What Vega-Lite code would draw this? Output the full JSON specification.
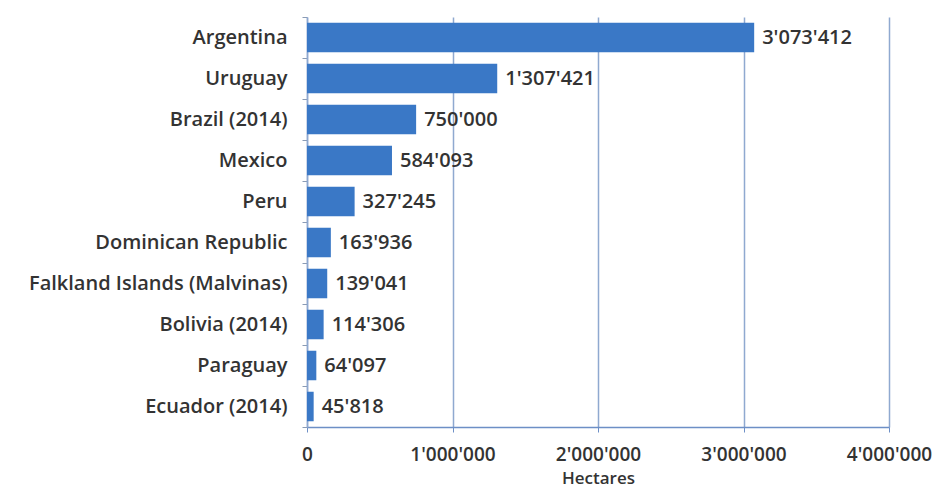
{
  "$schema": "https://vega.github.io/schema/vega-lite/v6.json",
  "width": 582,
  "height": 410,
  "autosize": {"type": "none"},
  "padding": {"left": 307, "top": 17, "right": 54, "bottom": 63},
  "background": "white",
  "config": {
    "locale": {"number": {"decimal": ".", "thousands": "'", "grouping": [3], "currency": ["", ""]}},
    "view": {"stroke": null},
    "font": "Open Sans"
  },
  "data": {
    "values": [
      {"country": "Argentina", "hectares": 3073412},
      {"country": "Uruguay", "hectares": 1307421},
      {"country": "Brazil (2014)", "hectares": 750000},
      {"country": "Mexico", "hectares": 584093},
      {"country": "Peru", "hectares": 327245},
      {"country": "Dominican Republic", "hectares": 163936},
      {"country": "Falkland Islands (Malvinas)", "hectares": 139041},
      {"country": "Bolivia (2014)", "hectares": 114306},
      {"country": "Paraguay", "hectares": 64097},
      {"country": "Ecuador (2014)", "hectares": 45818}
    ]
  },
  "encoding": {
    "y": {
      "field": "country",
      "type": "nominal",
      "sort": null,
      "scale": {"paddingInner": 0, "paddingOuter": 0},
      "axis": {
        "title": null,
        "tickBand": "extent",
        "domainColor": "#8fa9d0",
        "domainWidth": 1.5,
        "tickColor": "#8a9bb5",
        "tickSize": 5,
        "labelPadding": 15,
        "labelLimit": 0,
        "labelFontSize": 20,
        "labelFontWeight": 600,
        "labelColor": "#333333",
        "labelFont": "Open Sans"
      }
    },
    "x": {
      "field": "hectares",
      "type": "quantitative",
      "scale": {"domain": [0, 4000000]},
      "axis": {
        "title": "Hectares",
        "values": [0, 1000000, 2000000, 3000000, 4000000],
        "format": ",d",
        "grid": true,
        "gridColor": "#8fa9d0",
        "gridWidth": 1.5,
        "domainColor": "#6d8fc6",
        "domainWidth": 1.5,
        "tickColor": "#6d8fc6",
        "tickSize": 5,
        "labelPadding": 13,
        "labelFlush": false,
        "labelOverlap": false,
        "labelFontSize": 19,
        "labelFontWeight": 600,
        "labelColor": "#333333",
        "labelFont": "Open Sans",
        "titleFontSize": 17,
        "titleFontWeight": 600,
        "titleColor": "#333333",
        "titleFont": "Open Sans",
        "titlePadding": 6
      }
    }
  },
  "layer": [
    {
      "mark": {"type": "bar", "color": "#3a78c6", "height": {"band": 0.72}}
    },
    {
      "mark": {"type": "text", "align": "left", "baseline": "middle", "dx": 8, "fontSize": 20, "fontWeight": 600, "color": "#333333", "font": "Open Sans"},
      "encoding": {"text": {"field": "hectares", "type": "quantitative", "format": ",d"}}
    }
  ]
}
